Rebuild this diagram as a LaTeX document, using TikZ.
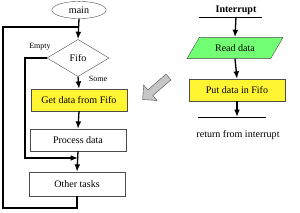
\documentclass[tikz,border=0pt]{standalone}
\usepackage{fontspec}
\setmainfont{Liberation Serif}
\usepackage{tikz}
\usetikzlibrary{arrows.meta, positioning, shapes}

\begin{document}
\begin{tikzpicture}[
  x=0.035cm,y=-0.035cm,
  box/.style={draw=black!70, minimum width=3.35cm, minimum height=0.77cm, align=center, font=\normalsize},
  flow/.style={-{Latex[length=2.6mm,width=2mm]}, line width=1.3pt},
  path/.style={line width=1.3pt},
  lbl/.style={font=\footnotesize, inner sep=1pt}
]
\useasboundingbox (0,0) rectangle (300,213);

% main loop
\node[draw=black!70, ellipse, minimum width=1.9cm, minimum height=0.6cm, inner sep=0pt, font=\normalsize] (main) at (79,10) {main};
\node[draw=black!70, diamond, minimum width=2.17cm, minimum height=1.3cm, inner sep=0pt, font=\normalsize] (fifo) at (78,58) {Fifo};
\node[box, fill=yellow!80] (get) at (79,100) {Get data from Fifo};
\node[box, fill=white] (proc) at (78,140) {Process data};
\node[box, fill=white, minimum height=0.84cm] (other) at (77,184) {Other tasks};

\coordinate (top) at (79,27);
\coordinate (loopL) at (3,208);
\coordinate (emptyL) at (25,158);
\coordinate (join) at (78,158);

\draw[flow] (main.south) -- (fifo.north);
\draw[path] (other.south) |- (loopL) |- (top);
\draw[flow] (fifo.west) -| (emptyL) -- (join);
\draw[flow] (fifo.south) -- (get.north);
\draw[flow] (get.south) -- (proc.north);
\draw[flow] (proc.south) -- (other.north);

\node[lbl] (empty) at (40,47) {Empty};
\node[lbl] (some) at (98,79) {Some};

% interrupt routine
\node[font=\normalsize\bfseries] (int) at (236,10) {Interrupt};
\coordinate (intL) at (199,17);
\coordinate (intR) at (262,17);
\coordinate (intM) at (236,17);
\node[draw=black!70, trapezium, trapezium left angle=60, trapezium right angle=120, fill=green!55, minimum width=2.55cm, minimum height=0.74cm, font=\normalsize] (read) at (235,48) {Read data};
\node[box, fill=yellow!80] (put) at (237,90) {Put data in Fifo};
\coordinate (retL) at (198,117);
\coordinate (retR) at (266,117);
\coordinate (retM) at (237,117);
\node[font=\normalsize] (ret) at (238,135) {return from interrupt};

\draw[line width=0.8pt] (intL) -- (intR);
\draw[flow] (intM) -- (read.north);
\draw[flow] (read.south) -- (put.north);
\draw[line width=0.8pt] (retL) -- (retR);
\draw[flow] (put.south) -- (retM);

% gray pointer
\node[single arrow, draw=black!70, fill=gray!45, rotate=221, minimum height=1.2cm, minimum width=0.72cm, inner sep=0.11cm, single arrow head extend=0.2cm] (hint) at (157,87) {};

\end{tikzpicture}
\end{document}
